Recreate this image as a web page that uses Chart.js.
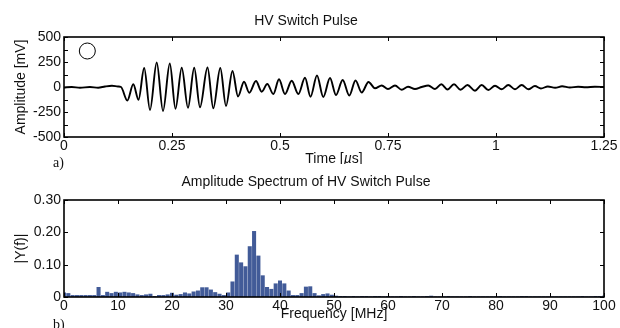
<!DOCTYPE html>
<html>
<head>
<meta charset="utf-8">
<script src="https://cdn.jsdelivr.net/npm/chart.js@4.4.1/dist/chart.umd.min.js"></script>
<style>
    html, body { margin: 0; padding: 0; background: #fff; }
    #page { position: relative; width: 620px; height: 328px; overflow: hidden; }
    .box { position: absolute; left: 0; width: 620px; height: 164px; }
    .tag { position: absolute; font: 14px "Liberation Serif", "Times New Roman", serif; line-height: 1; color: #111; }
</style>
</head>
<body>
<div id="page">
    <div class="box" style="top:0"><canvas id="pulse" width="620" height="164"></canvas></div>
    <div class="box" style="top:164px"><canvas id="spectrum" width="620" height="164"></canvas></div>
    <span class="tag" style="left:53px; top:156px">a)</span>
    <span class="tag" style="left:53px; top:318px">b)</span>
</div>
<script>
// time trace (extrema of the ringing)
const timeUs = [0, 0.018, 0.037, 0.060, 0.079, 0.095, 0.111, 0.125, 0.132,
    0.1465, 0.1604, 0.1725, 0.1856, 0.1991, 0.2146, 0.2292, 0.2449, 0.2581, 0.2725, 0.2870,
    0.3014, 0.3148, 0.3322, 0.3456, 0.3618, 0.3750,
    0.3900, 0.4028, 0.4167, 0.4289, 0.4444, 0.4576, 0.4706, 0.4845, 0.4977, 0.5116,
    0.5271, 0.5424, 0.5579, 0.5706, 0.5856, 0.6002, 0.6157, 0.6296, 0.6451, 0.6604,
    0.6748, 0.6891, 0.7049,
    0.7199, 0.7354, 0.7500, 0.7662, 0.7817, 0.7963, 0.8125, 0.8280, 0.8433, 0.8588,
    0.8734, 0.8877, 0.9028, 0.9178, 0.9340, 0.9514, 0.9669, 0.9822, 0.9977, 1.0132,
    1.0285, 1.0440, 1.0595, 1.0748,
    1.090, 1.104, 1.120, 1.137, 1.153, 1.171, 1.190, 1.208, 1.229, 1.25];
const ampMv = [-5, 0, -8, 0, -7, 5, 12, 5, 0,
    -135, 27, -127, 190, -230, 245, -240, 235, -218, 193, -208,
    192, -203, 195, -213, 190, -190,
    160, -95, 53, -57, 60, -47, 30, -70, 77, -70,
    63, -70, 92, -97, 115, -100, 90, -80, 70, -85,
    65, -55, 50,
    -13, 15, -20, 15, -27, 3, -20, 0, 15, -20,
    28, -25, 28, -28, 20, -37, 20, -30, 13, -23,
    20, -23, 20, -23,
    10, -15, 5, -8, 7, -5, 2, -3, 2, 0];

// the open circle marker in the corner of plot a)
const markerTime = [0.054];
const markerAmp = [360];

const timeTicks = [0, 0.25, 0.5, 0.75, 1, 1.25];
const ampTicks = [-500, -250, 0, 250, 500];

// spectrum bins (0.8 MHz apart) and |Y(f)|
const freqMHz = [0, 0.8, 1.6, 2.4, 3.2, 4, 4.8, 5.6, 6.4, 7.2,
    8, 8.8, 9.6, 10.4, 11.2, 12, 12.8, 13.6, 14.4, 15.2,
    16, 16.8, 17.6, 18.4, 19.2, 20, 20.8, 21.6, 22.4, 23.2,
    24, 24.8, 25.6, 26.4, 27.2, 28, 28.8, 29.6, 30.4, 31.2,
    32, 32.8, 33.6, 34.4, 35.2, 36, 36.8, 37.6, 38.4, 39.2,
    40, 40.8, 41.6, 42.4, 43.2, 44, 44.8, 45.6, 46.4, 47.2,
    48, 48.8, 49.6, 50.4, 51.2, 52, 52.8, 53.6, 54.4, 55.2,
    56, 56.8, 57.6, 58.4, 59.2, 60, 60.8, 61.6, 62.4, 63.2,
    64, 64.8, 65.6, 66.4, 67.2, 68, 68.8, 69.6, 70.4, 71.2,
    72, 72.8, 73.6, 74.4, 75.2, 76, 76.8, 77.6, 78.4, 79.2,
    80, 80.8, 81.6, 82.4, 83.2, 84, 84.8, 85.6, 86.4, 87.2,
    88, 88.8, 89.6, 90.4, 91.2, 92, 92.8, 93.6, 94.4, 95.2,
    96, 96.8, 97.6, 98.4, 99.2, 100];
const magY = [0.013, 0.011, 0.005, 0.005, 0.005, 0.005, 0.005, 0.005, 0.030, 0.005,
    0.015, 0.011, 0.015, 0.013, 0.015, 0.013, 0.011, 0.007, 0.005, 0.007,
    0.009, 0.002, 0.005, 0.005, 0.007, 0.012, 0.006, 0.008, 0.013, 0.010,
    0.016, 0.019, 0.029, 0.029, 0.022, 0.014, 0.009, 0.005, 0.013, 0.047,
    0.130, 0.106, 0.094, 0.156, 0.203, 0.127, 0.066, 0.030, 0.024, 0.041,
    0.050, 0.041, 0.019, 0.005, 0.005, 0.011, 0.031, 0.032, 0.011, 0.004,
    0.008, 0.010, 0.006, 0.003, 0.002, 0.002, 0.001, 0.002, 0.001, 0.002,
    0.002, 0.001, 0.002, 0.002, 0.001, 0.002, 0.001, 0.001, 0.002, 0.001,
    0.001, 0.002, 0.001, 0.001, 0.002, 0.003, 0.001, 0.001, 0.001, 0.002,
    0.001, 0.001, 0.001, 0.001, 0.002, 0.001, 0.001, 0.001, 0.001, 0.001,
    0.001, 0.002, 0.001, 0.001, 0.001, 0.001, 0.002, 0.002, 0.001, 0.001,
    0.001, 0.001, 0.001, 0.001, 0.001, 0.001, 0.001, 0.001, 0.001, 0.001,
    0.002, 0.001, 0.001, 0.002, 0.002, 0.003];

const freqTicks = [0, 10, 20, 30, 40, 50, 60, 70, 80, 90, 100];
const magTicks = [0, 0.1, 0.2, 0.3];

const FONT = '"Liberation Sans", Arial, Helvetica, sans-serif';
const FS = 14;
const INK = '#111';

// box round the plot area + short inward tick marks on all four sides
const frameTicks = {
    id: 'frameTicks',
    afterDraw(chart, args, opts) {
        const { ctx, chartArea: a, scales: { x, y } } = chart;
        ctx.save();
        ctx.strokeStyle = '#000';
        ctx.lineWidth = 1;
        ctx.beginPath();
        const len = 4;
        x.ticks.forEach(t => {
            const px = Math.round(x.getPixelForValue(t.value)) + 0.5;
            ctx.moveTo(px, a.bottom); ctx.lineTo(px, a.bottom - len);
            ctx.moveTo(px, a.top); ctx.lineTo(px, a.top + len);
        });
        let yv = y.ticks.map(t => t.value);
        if (opts.minorY) {
            const extra = [];
            for (let i = 1; i < yv.length; i++) extra.push((yv[i] + yv[i - 1]) / 2);
            yv = yv.concat(extra);
        }
        yv.forEach(v => {
            const py = Math.round(y.getPixelForValue(v)) + 0.5;
            ctx.moveTo(a.left, py); ctx.lineTo(a.left + len, py);
            ctx.moveTo(a.right, py); ctx.lineTo(a.right - len, py);
        });
        ctx.stroke();
        ctx.lineWidth = 1.6;
        ctx.strokeRect(a.left, a.top, a.right - a.left, a.bottom - a.top);

        // x title with italic mu
        if (opts.xTitle) {
            const parts = opts.xTitle;
            const fonts = parts.map(p => (p.italic ? 'italic ' : '') + FS + 'px ' + FONT);
            let w = 0;
            const widths = parts.map((p, i) => { ctx.font = fonts[i]; const m = ctx.measureText(p.text).width; w += m; return m; });
            let cx = (a.left + a.right) / 2 - w / 2;
            const cy = a.bottom + 22;
            ctx.fillStyle = INK;
            ctx.textBaseline = 'middle';
            ctx.textAlign = 'left';
            parts.forEach((p, i) => { ctx.font = fonts[i]; ctx.fillText(p.text, cx, cy); cx += widths[i]; });
        }
        ctx.restore();
    }
};

function tickList(values) {
    return (scale) => { scale.ticks = values.map(v => ({ value: v })); };
}

new Chart(document.getElementById('pulse'), {
    type: 'line',
    data: {
        datasets: [{
            data: timeUs.map((t, i) => ({ x: t, y: ampMv[i] })),
            borderColor: '#000',
            borderWidth: 1.9,
            pointRadius: 0,
            cubicInterpolationMode: 'monotone',
            fill: false
        }, {
            data: markerTime.map((t, i) => ({ x: t, y: markerAmp[i] })),
            showLine: false,
            pointRadius: 8,
            pointBorderWidth: 1,
            pointBorderColor: '#000',
            pointBackgroundColor: 'rgba(0,0,0,0)'
        }]
    },
    options: {
        responsive: false,
        animation: false,
        layout: { padding: { left: 8, right: 16, top: 0, bottom: 0 } },
        plugins: {
            legend: { display: false },
            tooltip: { enabled: false },
            title: {
                display: true,
                text: 'HV Switch Pulse',
                color: INK,
                font: { family: FONT, size: FS, weight: 'normal' },
                padding: { top: 12.4, bottom: 7.8 }
            },
            frameTicks: { minorY: true, xTitle: [{ text: 'Time [' }, { text: 'µ', italic: true }, { text: 's]' }] }
        },
        scales: {
            x: {
                type: 'linear', min: 0, max: 1.25,
                afterBuildTicks: tickList(timeTicks),
                afterFit: (s) => { s.height = 27; },
                grid: { display: false, drawTicks: false },
                border: { display: false },
                ticks: { color: INK, font: { family: FONT, size: FS }, padding: 1, maxRotation: 0, autoSkip: false,
                    callback: (v) => String(v) }
            },
            y: {
                min: -500, max: 500,
                afterBuildTicks: tickList(ampTicks),
                afterFit: (s) => { s.width = 56; },
                grid: { display: false, drawTicks: false },
                border: { display: false },
                ticks: { color: INK, font: { family: FONT, size: FS }, padding: 3, callback: (v) => String(v) },
                title: { display: true, text: 'Amplitude [mV]', color: INK, font: { family: FONT, size: FS }, padding: { top: 4.6, bottom: 0 } }
            }
        }
    },
    plugins: [frameTicks]
});

new Chart(document.getElementById('spectrum'), {
    type: 'bar',
    data: {
        datasets: [{
            data: freqMHz.map((f, i) => ({ x: f, y: magY[i] })),
            backgroundColor: '#425b98',
            borderWidth: 0,
            barThickness: 3.4
        }]
    },
    options: {
        responsive: false,
        animation: false,
        layout: { padding: { left: 8, right: 16, top: 0, bottom: 0 } },
        plugins: {
            legend: { display: false },
            tooltip: { enabled: false },
            title: {
                display: true,
                text: 'Amplitude Spectrum of HV Switch Pulse',
                color: INK,
                font: { family: FONT, size: FS, weight: 'normal' },
                padding: { top: 9.6, bottom: 9.6 }
            },
            frameTicks: { minorY: false }
        },
        scales: {
            x: {
                type: 'linear', min: 0, max: 100, offset: false,
                afterBuildTicks: tickList(freqTicks),
                afterFit: (s) => { s.height = 31; },
                grid: { display: false, drawTicks: false },
                border: { display: false },
                ticks: { color: INK, font: { family: FONT, size: FS }, padding: 1, maxRotation: 0, autoSkip: false },
                title: { display: true, text: 'Frequency [MHz]', color: INK, font: { family: FONT, size: FS }, padding: { top: 0, bottom: 5.6 } }
            },
            y: {
                min: 0, max: 0.3,
                afterBuildTicks: tickList(magTicks),
                afterFit: (s) => { s.width = 56; },
                grid: { display: false, drawTicks: false },
                border: { display: false },
                ticks: { color: INK, font: { family: FONT, size: FS }, padding: 3,
                    callback: (v) => v === 0 ? '0' : v.toFixed(2) },
                title: { display: true, text: '|Y(f)|', color: INK, font: { family: FONT, size: FS }, padding: { top: 4.6, bottom: 0 } }
            }
        }
    },
    plugins: [frameTicks]
});
</script>
</body>
</html>
